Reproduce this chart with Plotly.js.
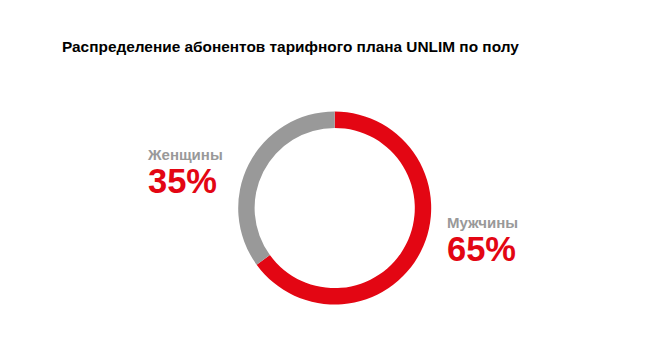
<!DOCTYPE html>
<html>
<head>
<meta charset="utf-8">
<script src="https://cdn.plot.ly/plotly-3.0.1.min.js"></script>
<style>html,body{margin:0;padding:0;background:#fff;}#chart{width:669px;height:354px;}</style>
</head>
<body>
<div id="chart"></div>
<script>
const categories = ["Мужчины", "Женщины"];
const values = [65, 35];
const colors = ["#e30613", "#999999"];
const titleText = "Распределение абонентов тарифного плана UNLIM по полу";

const W = 669, H = 354;
const px = x => x / W;
const py = y => 1 - y / H;

const trace = {
  type: "pie",
  labels: categories,
  values: values,
  sort: false,
  direction: "clockwise",
  rotation: 0,
  hole: 0.83,
  textinfo: "none",
  hoverinfo: "label+percent",
  marker: { colors: colors, line: { width: 0 } },
  domain: { x: [px(238.2), px(431.2)], y: [py(304.5), py(111.5)] },
  showlegend: false
};

const total = values.reduce((a, b) => a + b, 0);
const pct = v => Math.round(v / total * 100) + "%";
const font = "Liberation Sans, Arial, sans-serif";

const labelText = i =>
  "<span style='font-size:15px;color:" + colors[1] + "'><b>" + categories[i] + "</b></span><br>" +
  "<span style='font-size:34.5px;color:" + colors[0] + "'><b>" + pct(values[i]) + "</b></span>";

const annotations = [
  { text: labelText(1), x: px(146), y: py(172.5), xanchor: "left", yanchor: "middle", align: "left",
    font: { family: font, size: 25, color: colors[0] } },
  { text: labelText(0), x: px(446), y: py(240.5), xanchor: "left", yanchor: "middle", align: "left",
    font: { family: font, size: 25, color: colors[0] } }
].map(a => Object.assign({ xref: "paper", yref: "paper", showarrow: false, borderpad: 0 }, a));

const layout = {
  width: W, height: H,
  margin: { l: 0, r: 0, t: 0, b: 0 },
  paper_bgcolor: "#ffffff",
  title: { text: "<b>" + titleText + "</b>", x: px(62), xanchor: "left", xref: "paper",
           y: py(47), yanchor: "middle", yref: "paper",
           font: { family: font, size: 15.4, color: "#000000" } },
  annotations: annotations
};

Plotly.newPlot("chart", [trace], layout, { displayModeBar: false, staticPlot: true });
</script>
</body>
</html>
